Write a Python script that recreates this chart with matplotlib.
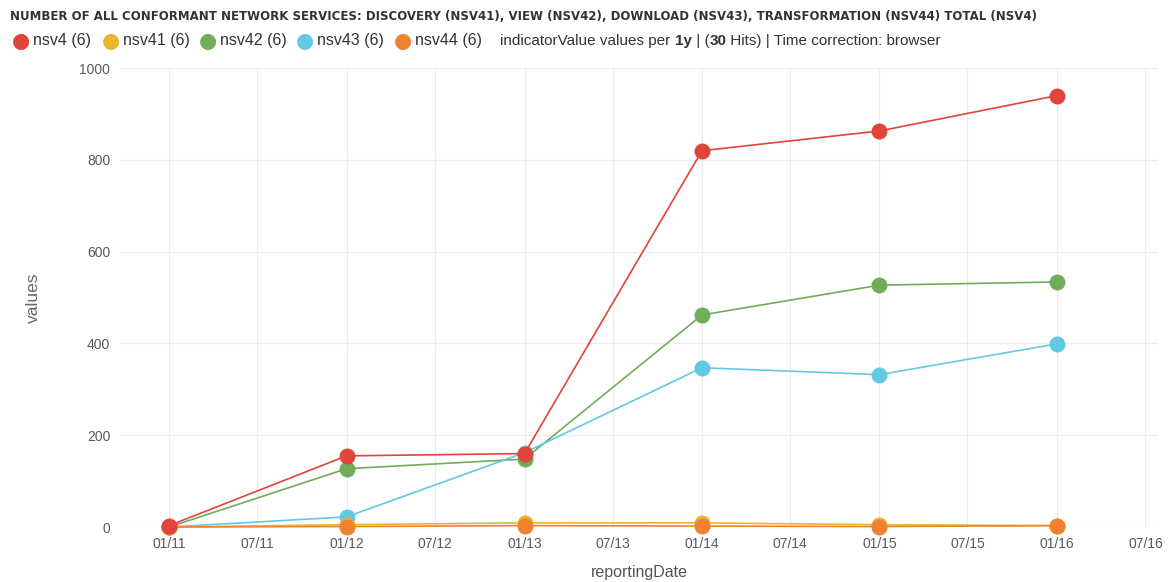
import numpy as np
import matplotlib
matplotlib.use("Agg")
import matplotlib.pyplot as plt
import matplotlib.dates as mdates
from datetime import datetime

plt.rcParams['font.family'] = ['Liberation Sans', 'DejaVu Sans']

# data
dates = [datetime(y, 1, 1) for y in range(2011, 2017)]
nsv4 = [3, 155, 160, 820, 863, 940]
nsv41 = [0, 5, 9, 9, 5, 3]
nsv42 = [0, 127, 148, 462, 527, 534]
nsv43 = [0, 22, 162, 347, 332, 399]
nsv44 = [0, 1, 3, 2, 1, 3]

series_names = ['nsv4', 'nsv41', 'nsv42', 'nsv43', 'nsv44']
series_vals = [nsv4, nsv41, nsv42, nsv43, nsv44]
colors = ['#e0443a', '#e9b52f', '#71ac58', '#63c9e2', '#ef8230']
draw_order = [2, 3, 1, 4, 0]  # red on top

title = ("NUMBER OF ALL CONFORMANT NETWORK SERVICES: DISCOVERY (NSV41), VIEW (NSV42), "
         "DOWNLOAD (NSV43), TRANSFORMATION (NSV44) TOTAL (NSV4)")

W, H = 1174, 582
fig = plt.figure(figsize=(W / 100, H / 100), dpi=100)
ax = fig.add_axes([0.1022, 0.0945, 0.8842, 0.7885])

for k, i in enumerate(draw_order):
    ax.plot(dates, series_vals[i], color=colors[i], lw=1.2, marker='o',
            markersize=11.5, markeredgewidth=0, clip_on=False, zorder=3 + k)

ax.set_ylim(0, 1000)
ax.set_yticks(range(0, 1001, 200))
ax.set_xlim(datetime(2010, 9, 22), datetime(2016, 7, 27))
ax.xaxis.set_major_locator(mdates.MonthLocator(bymonth=[1, 7]))
ax.xaxis.set_major_formatter(mdates.DateFormatter('%m/%y'))

ax.grid(True, color='#ececec', lw=0.9)
ax.set_axisbelow(True)
for s in ax.spines.values():
    s.set_visible(False)
ax.tick_params(length=0, colors='#5a5a5a', labelsize=10, pad=7)
ax.set_xlabel('reportingDate', color='#555555', fontsize=11.5, labelpad=10)
ax.set_ylabel('values', color='#666666', fontsize=12.5, labelpad=28)

fig.text(10 / W, 1 - 17 / H, title, fontsize=8.45, fontweight='bold', color='#333333',
         va='center', family=['DejaVu Sans'])

# legend row
y_leg = 1 - 41 / H
circle_x = [21, 111, 208, 305, 403]
for name, vals, c, cx in zip(series_names, series_vals, colors, circle_x):
    fig.text(cx / W, y_leg, '\u25cf', color=c, fontsize=15, family=['DejaVu Sans'],
             ha='center', va='center')
    fig.text((cx + 12) / W, y_leg, '%s (%d)' % (name, len(vals)), color='#333333',
             fontsize=11.5, va='center')

prev = fig.text(500 / W, y_leg, 'indicatorValue values per ', color='#333333',
                fontsize=11, va='center')
tail = [('1y', 'bold'), (' | (', 'normal'), ('30', 'bold'),
        (' Hits) | Time correction: browser', 'normal')]
for t, w in tail:
    prev = ax.annotate(t, xy=(1, 0.5), xycoords=prev, va='center', ha='left',
                       color='#333333', fontweight=w, fontsize=11, annotation_clip=False)

fig.savefig('out.png', dpi=100, facecolor='white')
